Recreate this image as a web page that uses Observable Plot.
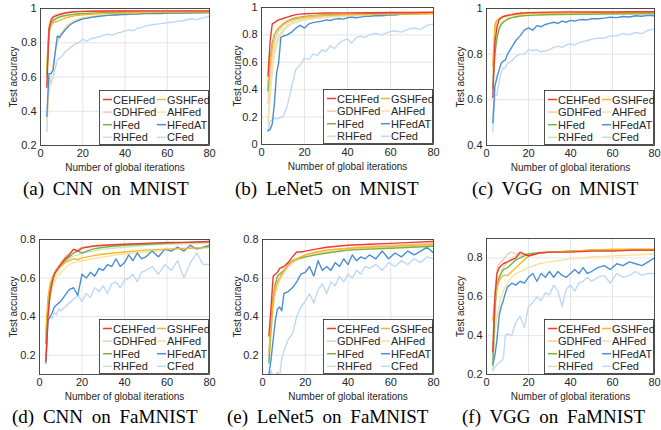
<!DOCTYPE html>
<html>
<head>
<meta charset="utf-8">
<script src="https://cdn.jsdelivr.net/npm/d3@7"></script>
<script src="https://cdn.jsdelivr.net/npm/@observablehq/plot@0.6"></script>
<style>
  html, body { margin: 0; padding: 0; background: #fff; }
  #root { position: relative; width: 661px; height: 430px; overflow: hidden; }
  .panel { position: absolute; }
  .panel > svg { display: block; }
  .panel svg g[aria-label="x-axis label"] text, .panel svg g[aria-label="y-axis label"] text { font-size: 10px; }
  .legend { position: absolute; }
  .cap { position: absolute; font-family: "Liberation Serif", "Times New Roman", serif; font-size: 19px; line-height: 19px; white-space: nowrap; word-spacing: 4px; color: #000; }
</style>
</head>
<body>
<div id="root"></div>
<script>
// ---------- data ----------
const methods = ["CEHFed", "GSHFed", "GDHFed", "AHFed", "HFed", "HFedAT", "RHFed", "CFed"];
const methodColors = ["#ee3a31", "#f6b827", "#f8c9ad", "#fbe29c", "#77b247", "#4990d8", "#cfe5bf", "#bfd9f3"];
const drawOrder = ["CFed", "RHFed", "AHFed", "GDHFed", "HFedAT", "HFed", "GSHFed", "CEHFed"];
const denseMethods = ["HFedAT", "CFed"];
const xTicks = [0, 20, 40, 60, 80];
const itersSmooth = [3,4,5,6,7,8,10,12,14,16,18,20,25,30,40,50,60,70,80];
const itersDense = [3,4,5,6,7,8,9,10,12,14,16,18,20,22,24,26,28,30,32,34,36,38,40,42,44,46,48,50,53,56,59,62,65,68,71,74,77,80];

const captions = ["(a) CNN on MNIST", "(b) LeNet5 on MNIST", "(c) VGG on MNIST", "(d) CNN on FaMNIST", "(e) LeNet5 on FaMNIST", "(f) VGG on FaMNIST"];
const yDomains = [[0.2, 1], [0, 1], [0.4, 1], [0.1, 0.8], [0.1, 0.8], [0.2, 0.9]];
const yTicksList = [[0.2,0.4,0.6,0.8,1], [0,0.2,0.4,0.6,0.8,1], [0.4,0.6,0.8,1], [0.2,0.4,0.6,0.8], [0.2,0.4,0.6,0.8], [0.2,0.4,0.6,0.8]];

// (a) CNN on MNIST
const a_CEHFed = [0.54,0.88,0.93,0.95,0.955,0.96,0.968,0.974,0.978,0.981,0.982,0.983,0.984,0.985,0.985,0.986,0.986,0.986,0.986];
const a_GSHFed = [0.66,0.88,0.91,0.92,0.922,0.925,0.935,0.945,0.952,0.957,0.96,0.963,0.967,0.97,0.974,0.977,0.979,0.98,0.981];
const a_GDHFed = [0.60,0.90,0.94,0.955,0.962,0.967,0.973,0.977,0.98,0.982,0.983,0.984,0.985,0.985,0.986,0.986,0.986,0.987,0.987];
const a_AHFed = [0.35,0.50,0.60,0.68,0.74,0.80,0.86,0.895,0.915,0.93,0.94,0.947,0.955,0.96,0.966,0.97,0.972,0.974,0.975];
const a_HFed = [0.62,0.86,0.91,0.93,0.94,0.947,0.955,0.96,0.964,0.967,0.969,0.971,0.973,0.975,0.977,0.978,0.979,0.98,0.98];
const a_RHFed = [0.55,0.84,0.89,0.915,0.93,0.94,0.95,0.956,0.96,0.964,0.966,0.968,0.971,0.973,0.975,0.977,0.978,0.979,0.979];
const a_HFedAT = [0.37,0.62,0.62,0.64,0.75,0.84,0.83,0.85,0.88,0.905,0.92,0.93,0.94,0.943,0.948,0.952,0.955,0.958,0.96,0.962,0.962,0.964,0.965,0.966,0.967,0.968,0.969,0.97,0.971,0.971,0.972,0.973,0.973,0.974,0.974,0.975,0.975,0.976];
const a_CFed = [0.28,0.60,0.56,0.60,0.65,0.70,0.71,0.72,0.75,0.77,0.79,0.80,0.82,0.81,0.825,0.83,0.835,0.845,0.85,0.845,0.855,0.86,0.87,0.875,0.87,0.885,0.89,0.90,0.905,0.91,0.915,0.92,0.925,0.93,0.94,0.935,0.945,0.955];

// (b) LeNet5 on MNIST
const b_CEHFed = [0.50,0.75,0.88,0.89,0.90,0.91,0.92,0.93,0.94,0.948,0.952,0.954,0.957,0.96,0.961,0.962,0.963,0.964,0.965];
const b_GSHFed = [0.45,0.60,0.72,0.80,0.83,0.85,0.88,0.90,0.91,0.92,0.925,0.93,0.94,0.944,0.948,0.95,0.952,0.953,0.955];
const b_GDHFed = [0.30,0.50,0.65,0.75,0.80,0.83,0.87,0.89,0.90,0.91,0.915,0.92,0.93,0.94,0.945,0.95,0.952,0.954,0.955];
const b_AHFed = [0.15,0.35,0.55,0.65,0.72,0.76,0.82,0.86,0.88,0.89,0.90,0.91,0.92,0.93,0.94,0.945,0.95,0.95,0.952];
const b_HFed = [0.39,0.62,0.74,0.80,0.83,0.85,0.88,0.90,0.915,0.925,0.93,0.935,0.942,0.947,0.952,0.955,0.957,0.958,0.96];
const b_RHFed = [0.18,0.35,0.55,0.68,0.75,0.79,0.84,0.87,0.885,0.895,0.905,0.91,0.922,0.93,0.94,0.945,0.95,0.952,0.955];
const b_HFedAT = [0.10,0.11,0.15,0.30,0.52,0.60,0.78,0.79,0.80,0.82,0.85,0.87,0.85,0.88,0.89,0.895,0.90,0.91,0.905,0.915,0.92,0.915,0.925,0.93,0.925,0.93,0.935,0.935,0.94,0.94,0.945,0.945,0.95,0.95,0.955,0.955,0.96,0.96];
const b_CFed = [0.10,0.17,0.18,0.19,0.19,0.19,0.20,0.20,0.28,0.42,0.55,0.58,0.63,0.62,0.66,0.65,0.69,0.68,0.72,0.70,0.74,0.76,0.77,0.74,0.78,0.79,0.78,0.80,0.81,0.80,0.82,0.83,0.82,0.84,0.85,0.84,0.87,0.88];

// (c) VGG on MNIST
const c_CEHFed = [0.61,0.85,0.92,0.95,0.96,0.965,0.97,0.973,0.977,0.98,0.981,0.982,0.983,0.984,0.985,0.985,0.985,0.986,0.986];
const c_GSHFed = [0.75,0.93,0.95,0.955,0.96,0.965,0.97,0.972,0.975,0.977,0.978,0.979,0.98,0.98,0.981,0.981,0.982,0.982,0.982];
const c_GDHFed = [0.70,0.92,0.945,0.955,0.96,0.963,0.968,0.972,0.975,0.977,0.978,0.979,0.98,0.98,0.981,0.981,0.981,0.982,0.982];
const c_AHFed = [0.72,0.90,0.94,0.95,0.955,0.96,0.965,0.97,0.972,0.974,0.975,0.976,0.977,0.978,0.979,0.98,0.98,0.98,0.98];
const c_HFed = [0.65,0.80,0.87,0.91,0.93,0.94,0.953,0.96,0.964,0.967,0.969,0.97,0.972,0.974,0.975,0.976,0.977,0.978,0.978];
const c_RHFed = [0.68,0.83,0.88,0.92,0.935,0.945,0.955,0.96,0.963,0.966,0.968,0.969,0.97,0.972,0.973,0.974,0.975,0.975,0.976];
const c_HFedAT = [0.50,0.66,0.70,0.73,0.76,0.77,0.775,0.80,0.83,0.86,0.88,0.905,0.915,0.905,0.925,0.92,0.93,0.935,0.94,0.935,0.945,0.94,0.948,0.945,0.95,0.952,0.95,0.955,0.955,0.958,0.962,0.96,0.965,0.963,0.968,0.966,0.97,0.968];
const c_CFed = [0.46,0.62,0.62,0.68,0.72,0.74,0.74,0.76,0.77,0.79,0.80,0.80,0.82,0.815,0.82,0.81,0.815,0.82,0.83,0.835,0.83,0.84,0.845,0.84,0.85,0.855,0.86,0.865,0.87,0.87,0.88,0.88,0.89,0.885,0.895,0.89,0.905,0.91];

// (d) CNN on FaMNIST
const d_CEHFed = [0.17,0.40,0.52,0.58,0.62,0.64,0.67,0.70,0.72,0.75,0.74,0.755,0.765,0.77,0.775,0.78,0.785,0.785,0.79];
const d_GSHFed = [0.33,0.50,0.57,0.60,0.62,0.64,0.66,0.68,0.69,0.70,0.695,0.705,0.715,0.725,0.735,0.745,0.75,0.755,0.758];
const d_GDHFed = [0.30,0.45,0.55,0.60,0.63,0.65,0.68,0.71,0.73,0.745,0.75,0.76,0.765,0.77,0.775,0.78,0.78,0.785,0.785];
const d_AHFed = [0.30,0.42,0.50,0.55,0.58,0.60,0.63,0.65,0.67,0.68,0.685,0.69,0.70,0.71,0.725,0.735,0.745,0.755,0.76];
const d_HFed = [0.26,0.45,0.55,0.60,0.62,0.64,0.67,0.69,0.71,0.73,0.74,0.73,0.75,0.76,0.77,0.775,0.78,0.785,0.79];
const d_RHFed = [0.28,0.42,0.52,0.57,0.60,0.62,0.66,0.68,0.70,0.715,0.72,0.73,0.74,0.75,0.76,0.77,0.775,0.778,0.78];
const d_HFedAT = [0.16,0.38,0.40,0.42,0.45,0.46,0.47,0.48,0.51,0.54,0.55,0.51,0.62,0.60,0.63,0.61,0.65,0.64,0.67,0.66,0.70,0.66,0.68,0.72,0.69,0.73,0.70,0.71,0.74,0.71,0.75,0.74,0.76,0.74,0.77,0.75,0.76,0.77];
const d_CFed = [0.20,0.38,0.40,0.39,0.42,0.41,0.44,0.43,0.45,0.47,0.49,0.51,0.48,0.52,0.50,0.55,0.53,0.56,0.52,0.57,0.58,0.55,0.59,0.60,0.62,0.58,0.63,0.64,0.66,0.62,0.67,0.64,0.69,0.60,0.68,0.73,0.67,0.67];

// (e) LeNet5 on FaMNIST
const e_CEHFed = [0.30,0.45,0.61,0.62,0.63,0.65,0.66,0.68,0.71,0.735,0.735,0.74,0.75,0.76,0.77,0.775,0.78,0.785,0.79];
const e_GSHFed = [0.22,0.35,0.50,0.55,0.58,0.60,0.64,0.67,0.69,0.70,0.71,0.72,0.735,0.745,0.755,0.76,0.765,0.77,0.775];
const e_GDHFed = [0.20,0.35,0.47,0.53,0.57,0.60,0.63,0.66,0.68,0.70,0.71,0.72,0.73,0.745,0.755,0.765,0.77,0.775,0.78];
const e_AHFed = [0.20,0.32,0.45,0.52,0.56,0.59,0.63,0.66,0.68,0.69,0.70,0.71,0.725,0.735,0.75,0.76,0.765,0.77,0.775];
const e_HFed = [0.16,0.35,0.50,0.57,0.61,0.62,0.64,0.67,0.69,0.70,0.705,0.71,0.72,0.73,0.745,0.75,0.755,0.76,0.765];
const e_RHFed = [0.18,0.30,0.45,0.52,0.56,0.59,0.63,0.66,0.68,0.69,0.70,0.71,0.725,0.735,0.745,0.755,0.76,0.765,0.77];
const e_HFedAT = [0.10,0.18,0.28,0.38,0.44,0.45,0.43,0.52,0.53,0.55,0.58,0.62,0.63,0.66,0.61,0.69,0.64,0.66,0.64,0.68,0.66,0.70,0.67,0.72,0.69,0.71,0.70,0.72,0.70,0.74,0.70,0.73,0.71,0.74,0.72,0.74,0.76,0.73];
const e_CFed = [0.08,0.12,0.08,0.10,0.11,0.09,0.18,0.22,0.28,0.31,0.40,0.45,0.48,0.52,0.47,0.54,0.57,0.52,0.58,0.56,0.61,0.58,0.62,0.60,0.64,0.62,0.66,0.65,0.67,0.64,0.68,0.66,0.69,0.67,0.70,0.68,0.71,0.70];

// (f) VGG on FaMNIST
const f_CEHFed = [0.32,0.60,0.72,0.75,0.76,0.77,0.78,0.79,0.80,0.83,0.82,0.81,0.825,0.83,0.83,0.835,0.835,0.84,0.84];
const f_GSHFed = [0.48,0.58,0.65,0.68,0.70,0.71,0.71,0.73,0.75,0.77,0.79,0.81,0.825,0.83,0.835,0.84,0.845,0.845,0.845];
const f_GDHFed = [0.30,0.62,0.74,0.77,0.78,0.79,0.82,0.83,0.82,0.82,0.82,0.82,0.83,0.83,0.835,0.84,0.84,0.845,0.845];
const f_AHFed = [0.30,0.42,0.50,0.55,0.60,0.63,0.67,0.70,0.72,0.73,0.74,0.75,0.77,0.78,0.795,0.805,0.81,0.815,0.82];
const f_HFed = [0.25,0.55,0.66,0.70,0.72,0.74,0.75,0.77,0.79,0.80,0.81,0.82,0.825,0.83,0.835,0.84,0.84,0.84,0.84];
const f_RHFed = [0.22,0.50,0.63,0.70,0.73,0.75,0.78,0.80,0.81,0.81,0.815,0.82,0.825,0.83,0.835,0.84,0.84,0.84,0.84];
const f_HFedAT = [0.25,0.30,0.38,0.50,0.55,0.58,0.62,0.65,0.67,0.66,0.68,0.67,0.70,0.72,0.68,0.72,0.70,0.73,0.70,0.73,0.71,0.70,0.72,0.74,0.72,0.75,0.72,0.73,0.75,0.76,0.74,0.77,0.76,0.78,0.77,0.76,0.78,0.80];
const f_CFed = [0.22,0.24,0.25,0.26,0.27,0.28,0.40,0.41,0.40,0.47,0.50,0.44,0.55,0.57,0.60,0.58,0.62,0.61,0.66,0.63,0.55,0.64,0.66,0.63,0.67,0.68,0.70,0.68,0.70,0.71,0.67,0.72,0.70,0.71,0.73,0.71,0.72,0.72];

const panelSeries = [
  {CEHFed: a_CEHFed, GSHFed: a_GSHFed, GDHFed: a_GDHFed, AHFed: a_AHFed, HFed: a_HFed, HFedAT: a_HFedAT, RHFed: a_RHFed, CFed: a_CFed},
  {CEHFed: b_CEHFed, GSHFed: b_GSHFed, GDHFed: b_GDHFed, AHFed: b_AHFed, HFed: b_HFed, HFedAT: b_HFedAT, RHFed: b_RHFed, CFed: b_CFed},
  {CEHFed: c_CEHFed, GSHFed: c_GSHFed, GDHFed: c_GDHFed, AHFed: c_AHFed, HFed: c_HFed, HFedAT: c_HFedAT, RHFed: c_RHFed, CFed: c_CFed},
  {CEHFed: d_CEHFed, GSHFed: d_GSHFed, GDHFed: d_GDHFed, AHFed: d_AHFed, HFed: d_HFed, HFedAT: d_HFedAT, RHFed: d_RHFed, CFed: d_CFed},
  {CEHFed: e_CEHFed, GSHFed: e_GSHFed, GDHFed: e_GDHFed, AHFed: e_AHFed, HFed: e_HFed, HFedAT: e_HFedAT, RHFed: e_RHFed, CFed: e_CFed},
  {CEHFed: f_CEHFed, GSHFed: f_GSHFed, GDHFed: f_GDHFed, AHFed: f_AHFed, HFed: f_HFed, HFedAT: f_HFedAT, RHFed: f_RHFed, CFed: f_CFed}
];

// ---------- layout ----------
const layout = [
  {left: 0,   top: 0,   width: 220, mL: 40, mR: 11, mT: 8, mB: 30, lo: 31, capL: 23,  capT: 179},
  {left: 220, top: 0,   width: 220, mL: 41, mR: 7,  mT: 7, mB: 31, lo: 28, capL: 235, capT: 179},
  {left: 440, top: 0,   width: 221, mL: 46, mR: 7,  mT: 8, mB: 30, lo: 30, capL: 472, capT: 179},
  {left: 0,   top: 230, width: 220, mL: 39, mR: 11, mT: 9, mB: 31, lo: 30, capL: 12,  capT: 407},
  {left: 220, top: 230, width: 220, mL: 42, mR: 7,  mT: 9, mB: 31, lo: 29, capL: 227, capT: 407},
  {left: 440, top: 230, width: 221, mL: 46, mR: 7,  mT: 8, mB: 31, lo: 30, capL: 462, capT: 407}
];
const H = 175;
const LW = 110, LH = 55;

const root = document.getElementById("root");
const NS = "http://www.w3.org/2000/svg";

function makeLegend() {
  const svg = document.createElementNS(NS, "svg");
  svg.setAttribute("width", LW);
  svg.setAttribute("height", LH);
  svg.setAttribute("class", "legend");
  const rect = document.createElementNS(NS, "rect");
  rect.setAttribute("x", 0.5); rect.setAttribute("y", 0.5);
  rect.setAttribute("width", LW - 1); rect.setAttribute("height", LH - 1);
  rect.setAttribute("fill", "#fff"); rect.setAttribute("stroke", "#262626"); rect.setAttribute("stroke-width", 0.8);
  svg.appendChild(rect);
  methods.forEach((m, j) => {
    const col = j % 2, row = Math.floor(j / 2);
    const x0 = col === 0 ? 4 : 58;
    const cy = 9.5 + row * 12.6;
    const ln = document.createElementNS(NS, "line");
    ln.setAttribute("x1", x0); ln.setAttribute("x2", x0 + 9);
    ln.setAttribute("y1", cy); ln.setAttribute("y2", cy);
    ln.setAttribute("stroke", methodColors[j]); ln.setAttribute("stroke-width", 1.5);
    svg.appendChild(ln);
    const t = document.createElementNS(NS, "text");
    t.setAttribute("x", x0 + 10); t.setAttribute("y", cy + 4);
    t.setAttribute("font-family", "'Liberation Sans', Arial, sans-serif");
    t.setAttribute("font-size", 11);
    t.setAttribute("fill", "#262626");
    t.textContent = m;
    svg.appendChild(t);
  });
  return svg;
}

layout.forEach((L, i) => {
  const series = panelSeries[i];
  const rows = [];
  for (const m of drawOrder) {
    const xs = denseMethods.includes(m) ? itersDense : itersSmooth;
    series[m].forEach((v, k) => rows.push({method: m, x: xs[k], y: v}));
  }
  const yTicks = yTicksList[i];
  const chart = Plot.plot({
    width: L.width,
    height: H,
    marginLeft: L.mL,
    marginRight: L.mR,
    marginTop: L.mT,
    marginBottom: L.mB,
    style: {fontFamily: "'Liberation Sans', Arial, sans-serif", fontSize: "11px", color: "#262626", background: "transparent", overflow: "visible"},
    x: {domain: [0, 80]},
    y: {domain: yDomains[i]},
    color: {domain: methods, range: methodColors},
    marks: [
      Plot.gridX(xTicks, {stroke: "#dedede", strokeOpacity: 1, strokeWidth: 0.8}),
      Plot.gridY(yTicks, {stroke: "#dedede", strokeOpacity: 1, strokeWidth: 0.8}),
      Plot.axisX(xTicks, {tickSize: 0, tickPadding: 4, label: "Number of global iterations", labelAnchor: "center", labelArrow: "none", labelOffset: 25, tickFormat: d => String(d)}),
      Plot.axisY(yTicks, {tickSize: 0, tickPadding: 4, label: "Test accuracy", labelAnchor: "center", labelArrow: "none", labelOffset: L.lo, tickFormat: d => String(d)}),
      Plot.line(rows, {x: "x", y: "y", z: "method", stroke: "method", strokeWidth: 1.4, clip: true}),
      Plot.frame({stroke: "#262626", strokeWidth: 0.8})
    ]
  });
  const div = document.createElement("div");
  div.className = "panel";
  div.style.left = L.left + "px";
  div.style.top = L.top + "px";
  div.style.width = L.width + "px";
  div.style.height = H + "px";
  div.appendChild(chart);

  const leg = makeLegend();
  leg.style.right = L.mR + "px";
  leg.style.bottom = L.mB + "px";
  div.appendChild(leg);
  root.appendChild(div);

  const cap = document.createElement("div");
  cap.className = "cap";
  cap.style.left = L.capL + "px";
  cap.style.top = L.capT + "px";
  cap.textContent = captions[i];
  root.appendChild(cap);
});
</script>
</body>
</html>
